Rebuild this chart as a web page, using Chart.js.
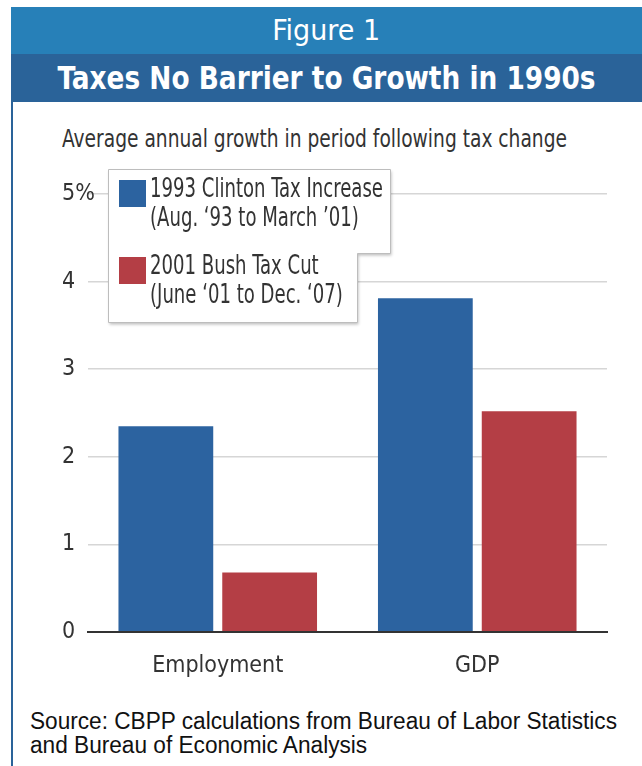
<!DOCTYPE html>
<html>
<head>
<meta charset="utf-8">
<script src="https://cdn.jsdelivr.net/npm/chart.js"></script>
<style>
  body { margin: 0; background: #fff; width: 642px; height: 766px; overflow: hidden; position: relative; font-family: "DejaVu Sans Condensed", sans-serif; }
  .fit { display: inline-block; white-space: nowrap; }
  #band1 { position: absolute; left: 11px; top: 7px; width: 631px; height: 47px; background: #2780b8; color: #fff; font-size: 29px; text-align: center; line-height: 47px; }
  #band2 { position: absolute; left: 11px; top: 54px; width: 631px; height: 48px; background: #2a6399; color: #fff; font-size: 32px; font-weight: bold; text-align: center; line-height: 48px; }
  #band1 .fit, #band2 .fit { transform-origin: center; }
  #edge { position: absolute; left: 11px; top: 102px; width: 2px; height: 664px; background: #2a6399; }
  #subtitle { position: absolute; left: 62px; top: 124px; font-size: 25px; color: #333; transform-origin: left; }
  #wrap { position: absolute; left: 0; top: 102px; width: 642px; height: 590px; }
  #source { position: absolute; left: 30px; top: 709px; font-size: 23px; line-height: 24px; color: #111; font-family: "Liberation Sans", sans-serif; }
  #source span { display: block; white-space: nowrap; transform-origin: left; }
</style>
</head>
<body>
<div id="band1"><span class="fit" data-w="108">Figure 1</span></div>
<div id="band2"><span class="fit" data-w="538">Taxes No Barrier to Growth in 1990s</span></div>
<div id="edge"></div>
<div id="subtitle" class="fit" data-w="505">Average annual growth in period following tax change</div>
<div id="wrap"><canvas id="chart"></canvas></div>
<div id="source"><span id="src1">Source: CBPP calculations from Bureau of Labor Statistics</span><span id="src2">and Bureau of Economic Analysis</span></div>
<script>
const categories = ["Employment", "GDP"];
const clinton = [2.35, 3.81];
const bush = [0.68, 2.52];
const clintonLabel = ["1993 Clinton Tax Increase", "(Aug. \u201893 to March \u201901)"];
const bushLabel = ["2001 Bush Tax Cut", "(June \u201801 to Dec. \u201807)"];
const yTicks = [0, 1, 2, 3, 4, 5];

const FONT = "'DejaVu Sans Condensed', sans-serif";

// squeeze the html text to the widths measured on the reference
document.querySelectorAll(".fit").forEach(el => {
  const w = el.getBoundingClientRect().width;
  el.style.transform = "scaleX(" + (el.dataset.w / w) + ")";
});
const src1 = document.getElementById("src1");
const range = document.createRange();
range.selectNodeContents(src1);
const srcScale = 587 / range.getBoundingClientRect().width;
document.querySelectorAll("#source span").forEach(el => {
  el.style.transform = "scaleX(" + srcScale + ")";
});

// legend box with the notched right side, drawn over the grid
const legendBox = {
  id: "legendBox",
  afterDraw(chart) {
    const c = chart.ctx;
    c.save();
    c.shadowColor = "rgba(0,0,0,0.25)";
    c.shadowBlur = 3;
    c.shadowOffsetX = 1;
    c.shadowOffsetY = 2;
    c.fillStyle = "#fff";
    c.beginPath();
    c.moveTo(108.5, 67.5);
    c.lineTo(390.5, 67.5);
    c.lineTo(390.5, 151.5);
    c.lineTo(357.5, 151.5);
    c.lineTo(357.5, 220.5);
    c.lineTo(108.5, 220.5);
    c.closePath();
    c.fill();
    c.shadowColor = "transparent";
    c.strokeStyle = "#bdbdbd";
    c.lineWidth = 1;
    c.stroke();

    const items = chart.data.datasets;
    const rows = [78, 155];
    c.font = "26px " + FONT;
    c.textBaseline = "middle";
    const sx = 233 / c.measureText(items[0].label[0]).width;
    items.forEach((ds, i) => {
      const y = rows[i];
      c.fillStyle = ds.backgroundColor;
      c.fillRect(119, y, 27, 27);
      c.fillStyle = "#333";
      ds.label.forEach((line, j) => {
        c.save();
        c.translate(150, y + 10 + j * 29);
        c.scale(sx, 1);
        c.fillText(line, 0, 0);
        c.restore();
      });
    });
    c.restore();
  }
};

new Chart(document.getElementById("chart"), {
  type: "bar",
  data: {
    labels: categories,
    datasets: [
      { label: clintonLabel, data: clinton, backgroundColor: "#2c63a0" },
      { label: bushLabel, data: bush, backgroundColor: "#b43e45" }
    ]
  },
  options: {
    responsive: true,
    maintainAspectRatio: false,
    animation: false,
    layout: { padding: { left: 62, right: 35, top: 92, bottom: 0 } },
    datasets: { bar: { categoryPercentage: 0.8, barPercentage: 0.913 } },
    plugins: {
      legend: { display: false },
      tooltip: { enabled: false }
    },
    scales: {
      x: {
        grid: { display: false },
        border: { display: true, color: "#333", width: 2 },
        ticks: { color: "#333", font: { family: FONT, size: 23 }, padding: 12 },
        afterFit(scale) { scale.height = 60; }
      },
      y: {
        min: 0,
        max: 5,
        afterBuildTicks(scale) { scale.ticks = yTicks.map(v => ({ value: v })); },
        grid: {
          color: ctx => (ctx.tick && ctx.tick.value === 0 ? "#333" : "#d6d6d6"),
          lineWidth: ctx => (ctx.tick && ctx.tick.value === 0 ? 2 : 1.5),
          drawTicks: false
        },
        border: { display: false },
        ticks: {
          mirror: true,
          padding: -26,
          color: "#333",
          font: { family: FONT, size: 23 },
          callback: v => (v === 5 ? "5%" : v)
        },
        afterFit(scale) { scale.width = 26; }
      }
    }
  },
  plugins: [legendBox]
});
</script>
</body>
</html>
